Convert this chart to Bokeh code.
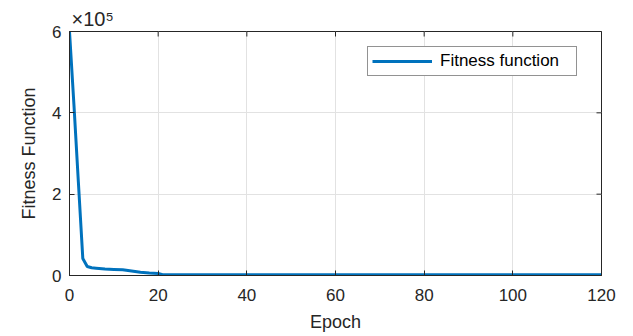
from bokeh.plotting import figure
from bokeh.models import Range1d, FixedTicker, Legend, LegendItem
from bokeh.embed import file_html
from bokeh.resources import INLINE
import math

# Data (fitness values in units of 1e5)
epochs = [0, 1, 2, 3, 4, 5, 6, 8, 10, 12, 14, 16, 18, 20, 21, 25, 30, 40, 50, 60, 70, 80, 90, 100, 110, 120]
fitness = [6.0, 4.2, 2.3, 0.42, 0.22, 0.19, 0.18, 0.16, 0.15, 0.14, 0.11, 0.08, 0.06, 0.05, 0.02, 0.02, 0.02,
           0.02, 0.02, 0.02, 0.02, 0.02, 0.02, 0.02, 0.02, 0.02]
x_ticks = [0, 20, 40, 60, 80, 100, 120]
y_ticks = [0, 2, 4, 6]
series_name = "Fitness function"
x_label = "Epoch"
y_label = "Fitness Function"
exponent_text = "\u00d710\u2075"

FONT = "Liberation Sans"
TXT = "#262626"

p = figure(width=633, height=336, output_backend="svg", toolbar_location=None,
           x_range=Range1d(0, 120), y_range=Range1d(0, 6),
           min_border_left=69, min_border_right=32, min_border_top=31, min_border_bottom=61)
p.background_fill_color = "white"
p.border_fill_color = "white"
p.outline_line_color = TXT
p.outline_line_width = 1

p.title.text = exponent_text
p.title.align = "left"
p.title.offset = 2
p.title.standoff = 3
p.title.text_font = FONT
p.title.text_font_size = "20px"
p.title.text_font_style = "normal"
p.title.text_color = TXT

r = p.line(epochs, fitness, line_color="#0072BD", line_width=3)

for ax, ticks in ((p.xaxis[0], x_ticks), (p.yaxis[0], y_ticks)):
    ax.ticker = FixedTicker(ticks=ticks)
    ax.minor_tick_line_color = None
    ax.major_tick_in = 5
    ax.major_tick_out = 0
    ax.major_tick_line_color = TXT
    ax.axis_line_color = TXT
    ax.major_label_text_font = FONT
    ax.major_label_text_font_size = "17px"
    ax.major_label_text_color = TXT
    ax.axis_label_text_font = FONT
    ax.axis_label_text_font_size = "18px"
    ax.axis_label_text_font_style = "normal"
    ax.axis_label_text_color = TXT

p.xaxis.axis_label = x_label
p.yaxis.axis_label = y_label
p.xaxis.major_label_standoff = 13
p.xaxis.axis_label_standoff = 8
p.yaxis.major_label_standoff = 8
p.yaxis.axis_label_standoff = 10

# top and right tick marks (box on)
p.scatter(x=x_ticks, y=[y_ticks[-1]] * len(x_ticks), marker="dash", angle=math.pi / 2,
          size=10, line_color=TXT, line_width=1)
p.scatter(x=[x_ticks[-1]] * len(y_ticks), y=y_ticks, marker="dash",
          size=10, line_color=TXT, line_width=1)

p.xgrid.ticker = FixedTicker(ticks=x_ticks)
p.ygrid.ticker = FixedTicker(ticks=y_ticks)
p.grid.grid_line_color = "#e2e2e2"
p.grid.grid_line_width = 1

legend = Legend(items=[LegendItem(label=series_name, renderers=[r])], location=(298, 199))
legend.label_text_font = FONT
legend.label_text_font_size = "17px"
legend.label_text_color = "black"
legend.glyph_width = 60
legend.glyph_height = 18
legend.label_standoff = 8
legend.label_width = 132
legend.label_height = 19
legend.padding = 4
legend.margin = 0
legend.border_line_color = TXT
legend.border_line_width = 1
legend.background_fill_alpha = 1
p.add_layout(legend)

open("out.html", "w").write(file_html(p, INLINE))
